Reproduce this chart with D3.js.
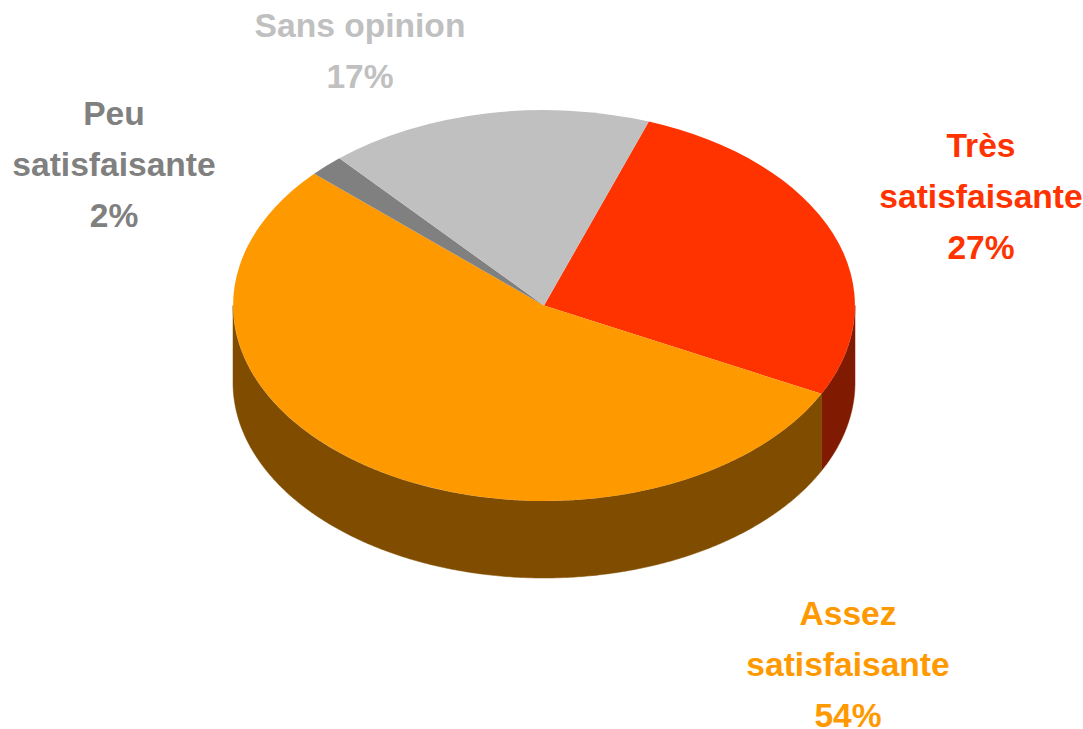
<!DOCTYPE html>
<html><head><meta charset="utf-8">
<script src="https://cdn.jsdelivr.net/npm/d3@7"></script>
<style>html,body{margin:0;padding:0;background:#fff}svg{display:block}
text{font-family:"Liberation Sans",Arial,sans-serif;font-weight:bold;font-size:33.6px;text-anchor:middle}</style>
</head><body><svg id="c" width="1083" height="729"></svg>
<script>
const categories=["Très satisfaisante","Assez satisfaisante","Peu satisfaisante","Sans opinion"];
const values=[27,54.3,1.8,16.9];
const topColors=["#FF3300","#FF9900","#808080","#C0C0C0"];
const sideColors=["#801A00","#804D00","#404040","#606060"];
const labelLines=[["Très","satisfaisante"],["Assez","satisfaisante"],["Peu","satisfaisante"],["Sans opinion"]];
const labelPos=[[981,157],[848,625],[114,125],[360,37]];
const lineGap=51;
const cx=544,cy=305.5,rx=311,ry=195.5,depth=77;
const svg=d3.select("#c");
const startA=19.7*Math.PI/180;
const pie=d3.pie().sort(null).startAngle(startA).endAngle(startA+2*Math.PI);
const arcs=pie(values);
const sx=d3.scaleLinear().domain([-1,1]).range([cx-rx,cx+rx]);
const sy=d3.scaleLinear().domain([-1,1]).range([cy-ry,cy+ry]);
const line=d3.line();
// Side wall: only the part of each slice's rim that faces the viewer
function wall(a0,a1){
  const pts=[],n=Math.max(2,Math.ceil((a1-a0)/0.01));
  const lo=Math.max(a0,Math.PI/2),hi=Math.min(a1,3*Math.PI/2);
  if(hi<=lo)return null;
  for(let i=0;i<=n;i++){const t=lo+(hi-lo)*i/n;pts.push([sx(Math.sin(t)),sy(-Math.cos(t))]);}
  const bottom=pts.slice().reverse().map(p=>[p[0],p[1]+depth]);
  return line(pts.concat(bottom))+"Z";
}
arcs.forEach((d,i)=>{
  const p=wall(d.startAngle,d.endAngle);
  if(p)svg.append("path").attr("d",p).attr("fill",sideColors[i]).attr("stroke",sideColors[i]).attr("stroke-width",0.5);
});
const arc=d3.arc().innerRadius(0).outerRadius(1);
svg.append("g").attr("transform",`translate(${cx},${cy}) scale(${rx},${ry})`)
  .selectAll("path").data(arcs).join("path").attr("d",arc)
  .attr("fill",(d,i)=>topColors[i]);
labelLines.forEach((ls,i)=>{
  const t=svg.append("text").attr("fill",topColors[i]);
  const all=ls.concat([Math.round(values[i])+"%"]);
  all.forEach((s,j)=>t.append("tspan").attr("x",labelPos[i][0]).attr("y",labelPos[i][1]+j*lineGap).text(s));
});
</script></body></html>
